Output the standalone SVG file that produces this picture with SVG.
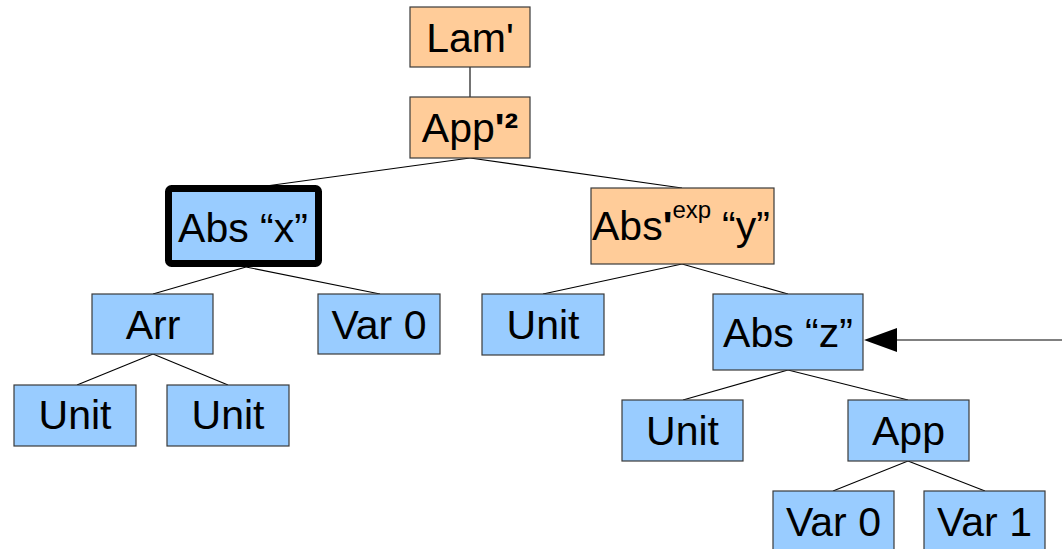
<svg xmlns="http://www.w3.org/2000/svg" width="1062" height="549" viewBox="0 0 1062 549">
<style>
.b{fill:#99ccff;stroke:#3a3a3a;stroke-width:1.2}
.o{fill:#ffcc99;stroke:#3a3a3a;stroke-width:1.2}
text{font-family:"Liberation Sans",Arial,sans-serif;font-size:41px;fill:#000;text-anchor:middle}
.c line{stroke:#000;stroke-width:1.1}
.bd{font-weight:bold}
</style>
<rect width="1062" height="549" fill="#fff"/>
<g id="connectors" class="c">
<line x1="470" y1="67" x2="470" y2="97"/>
<line x1="470" y1="158" x2="266" y2="186"/>
<line x1="470" y1="158" x2="682" y2="188"/>
<line x1="246" y1="267" x2="153" y2="294"/>
<line x1="246" y1="267" x2="380" y2="294"/>
<line x1="153" y1="354" x2="77" y2="385"/>
<line x1="153" y1="354" x2="228" y2="385"/>
<line x1="682" y1="264" x2="543" y2="294"/>
<line x1="682" y1="264" x2="788" y2="294"/>
<line x1="788" y1="370" x2="683" y2="400"/>
<line x1="788" y1="370" x2="908" y2="400"/>
<line x1="908" y1="461" x2="833" y2="491"/>
<line x1="908" y1="461" x2="985" y2="491"/>
<line x1="1062" y1="340" x2="896" y2="340" style="stroke:#808080;stroke-width:2"/>
<polygon points="864,340 897,328 897,352" fill="#000"/>
</g>
<g id="lam"><rect class="o" x="410" y="7" width="120" height="60"/><text x="470" y="52">Lam'</text></g>
<g id="app2"><rect class="o" x="410" y="97" width="120" height="61"/><text x="470" y="142">App<tspan class="bd">'²</tspan></text></g>
<g id="absx"><rect x="168.5" y="188.5" width="150" height="75" rx="3" fill="#99ccff" stroke="#000" stroke-width="7"/><text x="243" y="242">Abs “x”</text></g>
<g id="absy"><rect class="o" x="591" y="188" width="183" height="76"/><text x="592" y="240" style="text-anchor:start">Abs<tspan class="bd">'</tspan><tspan font-size="24" dy="-22">exp</tspan><tspan x="722" dy="22">“y”</tspan></text></g>
<g id="arr"><rect class="b" x="92" y="294" width="121" height="60"/><text x="153" y="339">Arr</text></g>
<g id="var0a"><rect class="b" x="318" y="294" width="122" height="60"/><text x="379" y="339">Var 0</text></g>
<g id="unit1"><rect class="b" x="14" y="385" width="122" height="61"/><text x="75" y="429">Unit</text></g>
<g id="unit2"><rect class="b" x="167" y="385" width="122" height="61"/><text x="228" y="429">Unit</text></g>
<g id="unit3"><rect class="b" x="482" y="294" width="122" height="61"/><text x="543" y="339">Unit</text></g>
<g id="absz"><rect class="b" x="713" y="294" width="150" height="76"/><text x="788" y="347">Abs “z”</text></g>
<g id="unit4"><rect class="b" x="622" y="400" width="121" height="61"/><text x="682.5" y="445">Unit</text></g>
<g id="app"><rect class="b" x="848" y="400" width="121" height="61"/><text x="908.5" y="445">App</text></g>
<g id="var0b"><rect class="b" x="773" y="491" width="121" height="62"/><text x="833.5" y="536">Var 0</text></g>
<g id="var1"><rect class="b" x="924" y="491" width="121" height="62"/><text x="984.5" y="536">Var 1</text></g>
</svg>
